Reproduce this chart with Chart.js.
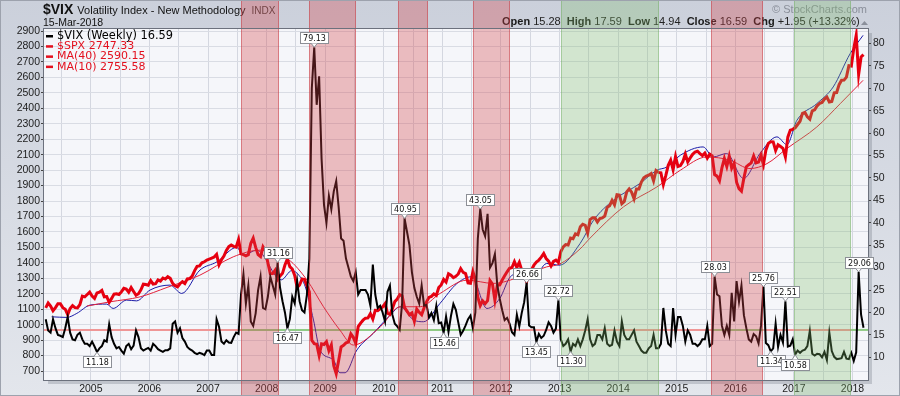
<!DOCTYPE html>
<html>
<head>
<meta charset="utf-8">
<script src="https://cdn.jsdelivr.net/npm/chart.js@4.4.1/dist/chart.umd.min.js"></script>
<style>
  html, body { margin: 0; padding: 0; background: #dde1e9; }
  canvas { display: block; }
</style>
</head>
<body>
<canvas id="vixChart" width="900" height="396"></canvas>
<script>
// --- header / legend texts ---
const symbol = "$VIX";
const symbolName = "Volatility Index - New Methodology";
const exchange = "INDX";
const lastDate = "15-Mar-2018";
const ohlcParts = [["Open", true], [" 15.28  ", false], ["High", true], [" 17.59  ", false],
  ["Low", true], [" 14.94  ", false], ["Close", true], [" 16.59  ", false],
  ["Chg", true], [" +1.95 (+13.32%)", false]];
const legendLabels = ["$VIX (Weekly) 16.59", "$SPX 2747.33", "MA(40) 2590.15", "MA(10) 2755.58"];

// --- tick labels ---
const spxTicks = [700, 800, 900, 1000, 1100, 1200, 1300, 1400, 1500, 1600, 1700, 1800,
  1900, 2000, 2100, 2200, 2300, 2400, 2500, 2600, 2700, 2800, 2900];
const vixTicks = [10, 15, 20, 25, 30, 35, 40, 45, 50, 55, 60, 65, 70, 75, 80];
const gridDates = [2004.5, 2005, 2005.5, 2006, 2006.5, 2007, 2007.5, 2008, 2008.5, 2009, 2009.5,
  2010, 2010.5, 2011, 2011.5, 2012, 2012.5, 2013, 2013.5, 2014, 2014.5, 2015, 2015.5,
  2016, 2016.5, 2017, 2017.5, 2018];

// --- VIX, half-monthly closes (first value = second half of March 2004) ---
const vixClose = [
  18.5, 16.0, 15.5, 18.5, 16.5, 15.0, 14.8,
  14.5, 16.5, 19.0, 15.5, 14.0, 13.8, 15.0, 15.5, 14.0, 13.0, 13.0, 12.5,          // 2004
  13.5, 12.4, 11.18, 12.0, 12.5, 13.8, 13.5, 17.4, 14.5, 13.0, 12.0, 12.3,
  11.5, 10.8, 12.5, 13.0, 11.8, 12.6, 16.0, 14.5, 12.0, 11.5, 11.8, 12.1,          // 2005
  11.5, 13.0, 12.5, 11.8, 11.5, 11.2, 11.6, 11.6, 12.0, 17.5, 18.0, 15.5,
  16.5, 14.3, 13.5, 12.3, 11.8, 11.5, 11.0, 10.7, 11.0, 10.8, 10.5, 11.5,          // 2006
  11.5, 10.5, 10.5, 18.5, 16.8, 13.5, 13.0, 13.8, 13.3, 13.2, 14.5, 15.5,
  15.2, 24.0, 28.5, 22.0, 26.0, 18.0, 17.0, 19.8, 25.0, 28.0, 21.0, 20.7,          // 2007
  23.5, 28.0, 26.0, 24.0, 31.16, 25.5, 22.5, 20.0, 16.47, 18.5, 23.5, 22.0,
  27.0, 22.5, 20.5, 20.0, 24.0, 32.0, 69.95, 79.13, 66.3, 72.67, 54.3, 44.0,       // 2008
  40.0, 46.0, 43.0, 47.0, 49.3, 43.5, 36.5, 36.0, 32.0, 30.0, 28.0, 27.0,
  29.0, 24.0, 25.0, 25.0, 25.0, 24.0, 21.5, 30.7, 24.0, 21.0, 21.5, 20.0,          // 2009
  18.0, 24.6, 26.0, 19.5, 17.5, 16.9, 16.1, 22.05, 40.95, 38.0, 35.0, 29.0,
  25.5, 23.5, 22.0, 26.0, 21.5, 21.7, 18.9, 19.9, 18.3, 21.5, 17.6, 17.75,         // 2010
  15.46, 19.1, 15.7, 19.2, 21.9, 20.6, 17.8, 15.0, 15.9, 17.1, 18.5, 19.3,
  16.5, 20.0, 36.4, 43.05, 38.5, 37.0, 42.0, 30.0, 31.0, 33.0, 26.0, 23.0,         // 2011
  20.5, 18.3, 18.8, 17.5, 15.6, 15.0, 19.5, 16.9, 19.9, 22.3, 26.66, 17.1,
  16.7, 16.7, 13.45, 15.2, 14.3, 14.8, 16.1, 17.8, 17.0, 15.5, 16.4, 22.72,        // 2012
  14.0, 12.5, 13.0, 14.0, 11.30, 13.0, 12.5, 14.0, 12.5, 14.0, 16.0, 18.5,
  14.0, 12.5, 13.0, 15.0, 15.0, 14.0, 16.5, 13.0, 12.5, 12.8, 16.0, 13.5,          // 2013
  12.5, 18.0, 15.0, 14.0, 14.0, 15.0, 16.0, 13.5, 12.5, 11.5, 11.0, 11.0,
  12.0, 12.5, 15.0, 12.0, 12.0, 13.0, 21.0, 16.0, 13.0, 12.5, 21.0, 15.0,          // 2014
  19.0, 19.0, 17.0, 13.5, 16.0, 15.0, 13.0, 13.0, 12.5, 13.0, 14.0, 14.0,
  17.0, 12.5, 13.0, 28.03, 24.0, 23.6, 17.0, 15.0, 17.0, 15.0, 24.4, 18.0,         // 2015
  27.0, 22.4, 26.0, 19.4, 16.5, 14.0, 13.5, 15.2, 14.7, 13.1, 17.0, 25.76,
  13.2, 12.7, 11.34, 12.0, 17.5, 12.3, 15.0, 13.3, 22.51, 12.4, 12.6, 14.0,        // 2016
  10.58, 11.5, 11.0, 11.5, 11.7, 12.5, 15.9, 10.8, 10.4, 10.8, 10.7, 10.0,
  11.2, 9.4, 15.5, 11.4, 10.1, 9.6, 9.7, 9.8, 11.2, 9.7, 9.6, 11.0,                // 2017
  9.2, 11.1, 29.06, 19.5, 16.59                                                   // 2018
];

// --- S&P 500, same half-monthly dates ---
const spxClose = [
  1109, 1140, 1120, 1090, 1110, 1135, 1135,
  1110, 1100, 1065, 1105, 1123, 1110, 1108, 1130, 1185, 1180, 1195, 1210,          // 2004
  1185, 1170, 1205, 1210, 1222, 1180, 1182, 1145, 1170, 1198, 1200, 1195,
  1212, 1235, 1230, 1210, 1240, 1215, 1190, 1200, 1225, 1262, 1260, 1255,          // 2005
  1285, 1262, 1265, 1290, 1282, 1302, 1295, 1311, 1300, 1267, 1252, 1245,
  1265, 1278, 1266, 1296, 1298, 1314, 1350, 1377, 1380, 1400, 1407, 1418,          // 2006
  1424, 1430, 1438, 1455, 1387, 1420, 1444, 1480, 1505, 1515, 1507, 1502,
  1552, 1458, 1453, 1445, 1453, 1525, 1560, 1500, 1453, 1440, 1504, 1478,          // 2007
  1401, 1330, 1331, 1353, 1293, 1315, 1332, 1386, 1425, 1375, 1360, 1318,
  1240, 1257, 1296, 1292, 1252, 1213, 899, 877, 873, 800, 876, 872,                // 2008
  890, 832, 869, 735, 683, 768, 856, 866, 882, 887, 940, 918,
  880, 987, 1010, 1029, 1042, 1044, 1072, 1036, 1093, 1091, 1102, 1115,            // 2009
  1136, 1074, 1066, 1104, 1149, 1166, 1194, 1187, 1110, 1087, 1064, 1076,
  1022, 1101, 1080, 1064, 1110, 1148, 1176, 1183, 1199, 1189, 1240, 1257,          // 2010
  1293, 1276, 1329, 1320, 1304, 1313, 1328, 1363, 1338, 1331, 1270, 1268,
  1343, 1292, 1178, 1123, 1154, 1136, 1155, 1285, 1263, 1158, 1255, 1258,          // 2011
  1289, 1316, 1342, 1365, 1370, 1408, 1370, 1403, 1353, 1317, 1278, 1335,
  1356, 1385, 1405, 1418, 1437, 1460, 1428, 1411, 1380, 1409, 1418, 1402,          // 2012
  1472, 1503, 1518, 1515, 1560, 1556, 1588, 1582, 1633, 1650, 1643, 1592,
  1680, 1691, 1691, 1664, 1687, 1691, 1703, 1759, 1770, 1804, 1775, 1841,          // 2013
  1838, 1782, 1797, 1859, 1878, 1857, 1815, 1878, 1878, 1923, 1950, 1961,
  1967, 1978, 1931, 1997, 1985, 1982, 1906, 1964, 2031, 2064, 2002, 2088,          // 2014
  2023, 2029, 2055, 2104, 2053, 2079, 2102, 2117, 2122, 2107, 2094, 2110,
  2077, 2103, 2092, 1971, 1961, 1931, 2014, 2075, 2023, 2090, 2012, 2044,          // 2015
  1922, 1880, 1864, 1948, 2022, 2035, 2047, 2091, 2047, 2052, 2096, 2037,
  2129, 2173, 2184, 2183, 2127, 2164, 2153, 2141, 2085, 2213, 2259, 2264,          // 2016
  2274, 2295, 2316, 2367, 2373, 2344, 2329, 2384, 2390, 2416, 2431, 2438,
  2459, 2472, 2441, 2444, 2500, 2502, 2553, 2581, 2582, 2602, 2675, 2673,          // 2017
  2786, 2872, 2619, 2732, 2747.33                                                 // 2018
];

// --- overlay lines (decimal year, S&P level) ---
const ma40Dates = [2004.93, 2005.33, 2005.84, 2006.30, 2006.86, 2007.43, 2007.89, 2008.37,
  2008.69, 2008.97, 2009.25, 2009.48, 2009.94, 2010.28, 2010.62, 2010.96, 2011.42, 2011.87,
  2012.33, 2012.78, 2013.00, 2013.35, 2013.52, 2014.09, 2014.66, 2015.06, 2015.51, 2015.91,
  2016.25, 2016.54, 2016.88, 2017.39, 2017.79, 2018.18];
const ma40Values = [1120, 1148, 1180, 1241, 1320, 1439, 1482, 1422,
  1288, 1116, 965, 868, 986, 1116, 1116, 1202, 1288, 1267,
  1310, 1374, 1392, 1490, 1560, 1762, 1891, 1999, 2085, 2064,
  2010, 2042, 2140, 2279, 2430, 2581];

const ma10Dates = [2004.33, 2004.59, 2004.76, 2004.99, 2005.27, 2005.38, 2005.61, 2005.78,
  2006.01, 2006.35, 2006.55, 2006.86, 2007.15, 2007.49, 2007.60, 2007.83, 2008.25, 2008.43,
  2008.55, 2008.66, 2008.80, 2008.91, 2009.14, 2009.25, 2009.34, 2009.54, 2009.82, 2010.11,
  2010.28, 2010.51, 2010.68, 2010.96, 2011.25, 2011.50, 2011.76, 2011.98, 2012.16, 2012.33,
  2012.55, 2012.78, 2013.00, 2013.35, 2013.58, 2013.92, 2014.37, 2014.66, 2014.83, 2015.06,
  2015.45, 2015.62, 2015.85, 2016.14, 2016.42, 2016.71, 2016.88, 2017.05, 2017.39, 2017.67,
  2017.96, 2018.18];
const ma10Values = [1051, 1047, 1073, 1127, 1133, 1105, 1159, 1154,
  1224, 1256, 1202, 1353, 1406, 1500, 1450, 1482, 1290, 1350,
  1320, 1245, 1030, 836, 771, 689, 689, 836, 944, 1062,
  1116, 1030, 1019, 1138, 1267, 1310, 1105, 1170, 1310, 1332,
  1299, 1396, 1385, 1525, 1676, 1805, 1913, 1999, 2020, 2096,
  2150, 2085, 2107, 1946, 2107, 2215, 2165, 2322, 2430, 2538,
  2754, 2872];

// --- horizontal VIX level, colour switches at these dates ---
const levelDates = [2004.20, 2007.565, 2012.155, 2015.585, 2016.478, 2017.975, 2018.264];
const levelValue = 16.1;

// --- shaded periods ---
const bandStart = [2007.565, 2008.730, 2010.249, 2011.529, 2013.020, 2015.585, 2017.002];
const bandEnd   = [2008.218, 2009.527, 2010.751, 2012.155, 2014.698, 2016.478, 2017.975];
const bandKind  = ["bear", "bear", "bear", "bear", "bull", "bear", "bull"];

// --- VIX peak / trough labels ---
const noteDates = [2005.10, 2008.17, 2008.34, 2008.80, 2010.33, 2011.01, 2011.61, 2012.41,
  2012.58, 2012.98, 2013.18, 2015.62, 2016.45, 2016.62, 2016.82, 2017.02, 2018.10];
const noteSide = ["low", "high", "low", "high", "high", "low", "high", "high",
  "low", "high", "low", "high", "high", "low", "high", "low", "high"];

// half-month dates, starting with the second half of March 2004
const sampleDates = [];
for (let y = 2004, m = 2, h = 1; sampleDates.length < vixClose.length; ) {
  sampleDates.push(y + (m + (h ? 0.75 : 0.25)) / 12);
  if (h) { h = 0; m++; if (m === 12) { m = 0; y++; } } else { h = 1; }
}

const toPoints = (xs, ys) => ys.map((v, i) => ({ x: xs[i], y: v }));

const ARIAL = '"Liberation Sans", Arial, sans-serif';
const VERD = '"DejaVu Sans", Verdana, sans-serif';

const backdrop = {
  id: "backdrop",
  beforeDraw(chart) {
    const { ctx, chartArea: a, width, height } = chart;
    ctx.save();
    const g = ctx.createLinearGradient(0, 0, 0, height);
    g.addColorStop(0, "#cbd0db");
    g.addColorStop(1, "#e3e6ec");
    ctx.fillStyle = g;
    ctx.fillRect(0, 0, width, height);
    ctx.fillStyle = "rgba(70,76,90,0.22)";
    ctx.fillRect(a.left + 4, a.top + 4, a.right - a.left, a.bottom - a.top);
    ctx.fillStyle = "#f5f6fa";
    ctx.fillRect(a.left, a.top, a.right - a.left, a.bottom - a.top);
    ctx.restore();
  }
};

const overlay = {
  id: "overlay",
  afterDraw(chart) {
    const { ctx, chartArea: a, scales } = chart;
    const x = scales.x, yv = scales.yVix;
    const H = chart.height;
    ctx.save();

    // title block
    ctx.textBaseline = "alphabetic";
    ctx.textAlign = "left";
    ctx.fillStyle = "#111";
    ctx.font = "bold 14px " + ARIAL;
    ctx.fillText(symbol, 43, 14);
    let tx = 43 + ctx.measureText(symbol).width + 4;
    ctx.font = "11px " + ARIAL;
    ctx.fillText(symbolName, tx, 14);
    tx += ctx.measureText(symbolName).width + 6;
    ctx.fillStyle = "#444";
    ctx.font = "10px " + ARIAL;
    ctx.fillText(exchange, tx, 14);
    ctx.fillStyle = "#111";
    ctx.font = "10.5px " + ARIAL;
    ctx.fillText(lastDate, 43, 26);

    // OHLC line
    let ox = 502;
    for (const [txt, bold] of ohlcParts) {
      ctx.font = (bold ? "bold " : "") + "11px " + ARIAL;
      ctx.fillStyle = bold ? "#1a1a1a" : "#222";
      ctx.fillText(txt, ox, 25);
      ox += ctx.measureText(txt).width;
    }
    ctx.fillStyle = "#8a8f9a";
    ctx.beginPath();
    ctx.moveTo(861, 25); ctx.lineTo(868, 25); ctx.lineTo(864.5, 21); ctx.closePath();
    ctx.fill();
    ctx.font = "11px " + ARIAL;
    ctx.textAlign = "right";
    ctx.fillStyle = "#8a8f9a";
    ctx.fillText("\u00A9 StockCharts.com", 867, 13);
    ctx.textAlign = "left";

    // shaded periods, over everything drawn so far
    bandStart.forEach((s, i) => {
      const x0 = Math.round(x.getPixelForValue(s));
      const x1 = Math.round(x.getPixelForValue(bandEnd[i]));
      const bear = bandKind[i] === "bear";
      ctx.fillStyle = bear ? "rgba(214,68,74,0.33)" : "rgba(128,190,108,0.30)";
      ctx.fillRect(x0, 0, x1 - x0, H);
      ctx.fillStyle = bear ? "rgba(195,45,50,0.45)" : "rgba(110,170,95,0.45)";
      ctx.fillRect(x0, 0, 1, H);
      ctx.fillRect(x1 - 1, 0, 1, H);
    });

    // plot frame
    ctx.strokeStyle = "#6c717d";
    ctx.lineWidth = 1;
    ctx.strokeRect(a.left - 0.5, a.top - 0.5, a.right - a.left + 1, a.bottom - a.top + 1);

    // peak / trough labels
    ctx.font = "8px " + VERD;
    ctx.textBaseline = "middle";
    ctx.textAlign = "center";
    noteDates.forEach((d, i) => {
      const high = noteSide[i] === "high";
      let best = -1;
      sampleDates.forEach((t, k) => {
        if (Math.abs(t - d) <= 0.046) {
          if (best < 0 || (high ? vixClose[k] > vixClose[best] : vixClose[k] < vixClose[best])) best = k;
        }
      });
      const px = x.getPixelForValue(sampleDates[best]);
      const py = yv.getPixelForValue(vixClose[best]);
      const label = vixClose[best].toFixed(2);
      const w = Math.ceil(ctx.measureText(label).width) + 5;
      const h = 11;
      const bx = Math.round(px - w / 2) + 0.5;
      const by = Math.round(high ? py - 4 - h : py + 4) + 0.5;
      ctx.fillStyle = "#ffffff";
      ctx.strokeStyle = "#8c8f96";
      ctx.fillRect(bx, by, w, h);
      ctx.strokeRect(bx, by, w, h);
      ctx.beginPath();
      const edge = high ? by + h : by;
      ctx.moveTo(px - 3, edge);
      ctx.lineTo(px, py);
      ctx.lineTo(px + 3, edge);
      ctx.fillStyle = "#ffffff";
      ctx.fill();
      ctx.stroke();
      ctx.fillStyle = "#111";
      ctx.fillText(label, bx + w / 2, by + h / 2 + 0.5);
    });

    // legend
    const legendColors = ["#000000", "#e3101e", "#e3101e", "#e3101e"];
    ctx.textAlign = "left";
    ctx.textBaseline = "alphabetic";
    legendLabels.forEach((txt, i) => {
      const ly = 39 + i * 10.2;
      ctx.fillStyle = legendColors[i];
      ctx.fillRect(46, ly - 4, 7, 2.5);
      ctx.font = (i === 0 ? "11.4px " : "11px ") + VERD;
      ctx.fillText(txt, 57, ly);
    });

    // outer frame
    ctx.strokeStyle = "#9da2ad";
    ctx.strokeRect(0.5, 0.5, chart.width - 1, H - 1);
    ctx.restore();
  }
};

const tickFont = { family: ARIAL, size: 10.5 };

new Chart(document.getElementById("vixChart").getContext("2d"), {
  type: "line",
  data: {
    datasets: [
      { label: "$VIX", data: toPoints(sampleDates, vixClose), yAxisID: "yVix",
        borderColor: "#000000", borderWidth: 2, pointRadius: 0, tension: 0 },
      { label: "$SPX", data: toPoints(sampleDates, spxClose), yAxisID: "ySpx",
        borderColor: "#e60010", borderWidth: 3, pointRadius: 0, tension: 0 },
      { label: "MA(40)", data: toPoints(ma40Dates, ma40Values), yAxisID: "ySpx",
        borderColor: "#e3203a", borderWidth: 1, pointRadius: 0, cubicInterpolationMode: "monotone" },
      { label: "MA(10)", data: toPoints(ma10Dates, ma10Values), yAxisID: "ySpx",
        borderColor: "#1b1ba8", borderWidth: 1, pointRadius: 0, cubicInterpolationMode: "monotone" },
      { label: "level", data: levelDates.map(d => ({ x: d, y: levelValue })), yAxisID: "yVix",
        borderWidth: 2, pointRadius: 0,
        segment: { borderColor: c => (c.p0DataIndex % 2 ? "#8fca84" : "#ef9696") } }
    ]
  },
  options: {
    responsive: false,
    animation: false,
    devicePixelRatio: 1,
    layout: { padding: { top: 29, left: 0, right: 0, bottom: 0 } },
    plugins: { legend: { display: false }, tooltip: { enabled: false } },
    scales: {
      x: {
        type: "linear",
        min: 2004.20,
        max: 2018.264,
        afterBuildTicks: s => { s.ticks = gridDates.map(v => ({ value: v })); },
        afterFit: s => { s.height = 16; },
        ticks: {
          autoSkip: false, maxRotation: 0, padding: 3, font: tickFont, color: "#1c1c1c",
          callback: v => (Number.isInteger(v) ? String(v) : "")
        },
        grid: { color: "#d4d7e0", drawTicks: false },
        border: { display: false }
      },
      ySpx: {
        position: "left",
        min: 642,
        max: 2913,
        afterBuildTicks: s => { s.ticks = spxTicks.map(v => ({ value: v })); },
        afterFit: s => { s.width = 44; },
        ticks: { padding: 1, font: tickFont, color: "#1c1c1c", callback: v => String(v) },
        grid: { color: "#d9dce4", tickColor: "#444", tickLength: 3 },
        border: { display: false }
      },
      yVix: {
        position: "right",
        min: 4.94,
        max: 83.2,
        afterBuildTicks: s => { s.ticks = vixTicks.map(v => ({ value: v })); },
        afterFit: s => { s.width = 32; },
        ticks: { padding: 2, font: tickFont, color: "#1c1c1c", callback: v => String(v) },
        grid: { drawOnChartArea: false, tickColor: "#444", tickLength: 3 },
        border: { display: false }
      }
    }
  },
  plugins: [backdrop, overlay]
});
</script>
</body>
</html>
